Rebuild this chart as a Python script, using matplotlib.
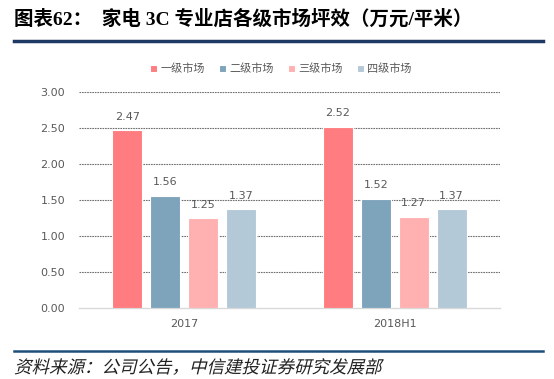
import matplotlib.pyplot as plt
import numpy as np
from matplotlib.textpath import TextPath
from matplotlib.patches import PathPatch
from matplotlib.font_manager import FontProperties
from matplotlib.transforms import Affine2D

plt.rcParams['font.family'] = ['Noto Sans CJK SC', 'DejaVu Sans']

categories = ['2017', '2018H1']
series_names = ['一级市场', '二级市场', '三级市场', '四级市场']
values = [
    [2.47, 2.52],   # 一级市场
    [1.56, 1.52],   # 二级市场
    [1.25, 1.27],   # 三级市场
    [1.37, 1.37],   # 四级市场
]
yticks = [0.0, 0.5, 1.0, 1.5, 2.0, 2.5, 3.0]

colors = ['#FF7C80', '#7EA4BC', '#FFB0B1', '#B4C9D8']
gray = '#595959'

W, H = 554, 379
fig = plt.figure(figsize=(W / 100, H / 100), dpi=100)

# axes area in pixels: x 79..500, y 92..308
ax = fig.add_axes([79 / W, 1 - 308 / H, (500 - 79) / W, (308 - 92) / H])

x = np.arange(len(categories))
bw = 0.142
step = 0.18
for i, (name, vals) in enumerate(zip(series_names, values)):
    pos = x + (i - 1.5) * step
    bars = ax.bar(pos, vals, bw, color=colors[i], edgecolor='white',
                  linewidth=0.8, label=name, zorder=3)
    for b, v in zip(bars, vals):
        ax.annotate(f'{v:.2f}', (b.get_x() + b.get_width() / 2, v),
                    xytext=(0, 6), textcoords='offset points',
                    ha='center', va='bottom', fontsize=8, color=gray,
                    family=['DejaVu Sans'])

ax.set_xlim(-0.5, 1.5)
ax.set_ylim(0, 3.0)
ax.set_yticks(yticks)
ax.set_yticklabels([f'{t:.2f}' for t in yticks], family=['DejaVu Sans'])
ax.set_xticks(x)
ax.set_xticklabels(categories, family=['DejaVu Sans'])
ax.tick_params(axis='both', length=0, labelsize=8, labelcolor=gray)
ax.tick_params(axis='y', pad=10)
ax.tick_params(axis='x', pad=8)

for yv in yticks[1:]:
    ax.axhline(yv, color='#6F6F6F', linestyle=(0, (1.5, 0.8)), linewidth=0.8,
               zorder=1)
for s in ['top', 'right', 'left']:
    ax.spines[s].set_visible(False)
ax.spines['bottom'].set_color('#D9D9D9')
ax.spines['bottom'].set_linewidth(1.0)

leg = fig.legend(loc='center', bbox_to_anchor=(281 / W, 1 - 69 / H), ncol=4,
                 frameon=False, fontsize=8, handlelength=0.6,
                 handleheight=0.6, handletextpad=0.3, columnspacing=1.3)
for t in leg.get_texts():
    t.set_color(gray)

# header
fig.text(14 / W, 1 - 19 / H, '图表62：  家电 3C 专业店各级市场坪效（万元/平米）',
         ha='left', va='center', fontsize=14, fontweight='bold',
         family=['Liberation Serif', 'Noto Sans CJK SC'], color='black')
fig.add_artist(plt.Line2D([14 / W, 543 / W], [1 - 41 / H, 1 - 41 / H],
                          color='#1F3864', linewidth=2.5))

# footer (slanted to mimic the italic source line)
fig.add_artist(plt.Line2D([14 / W, 543 / W], [1 - 351 / H, 1 - 351 / H],
                          color='#1F4E79', linewidth=1.8))
src = '资料来源：公司公告，中信建投证券研究发展部'
tp = TextPath((0, 0), src, size=17.5, prop=FontProperties(family='Noto Sans CJK SC'))
tr = Affine2D().skew_deg(14, 0).translate(14, H - 373)
fig.add_artist(PathPatch(tp, transform=tr, facecolor='#222222',
                         edgecolor='none'))

fig.savefig('out.png', dpi=100)
